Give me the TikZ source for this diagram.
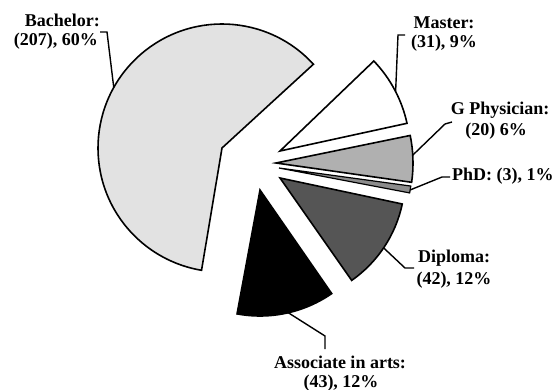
\documentclass[tikz,border=0pt]{standalone}
\usepackage{fontspec}
\setmainfont{Liberation Serif}
\usetikzlibrary{calc}
\definecolor{bachc}{HTML}{E2E2E2}
\definecolor{gpc}{HTML}{B0B0B0}
\definecolor{phdc}{HTML}{8C8C8C}
\definecolor{dipc}{HTML}{555555}
\begin{document}
\begin{tikzpicture}[x=1pt,y=-1pt,
  slice/.style={draw=black,line width=1.6pt,line join=miter},
  leader/.style={draw=black,line width=1.4pt},
  lbl/.style={inner sep=0pt,font=\bfseries\fontsize{18}{20}\selectfont}]
\useasboundingbox (0,0) rectangle (554,390);
% vertices
\coordinate (vB) at (222,148);
\coordinate (vM) at (280,151);
\coordinate (vG) at (276,163);
\coordinate (vP) at (279,168);
\coordinate (vD) at (280,178);
\coordinate (vA) at (260,190);
% slices
\filldraw[slice,fill=bachc] (vB) -- ++(-42.5:124) arc[start angle=-42.5,end angle=-260.5,radius=124] -- cycle;
\filldraw[slice,fill=white] (vM) -- ++(-43.8:130) arc[start angle=-43.8,end angle=-12.3,radius=130] -- cycle;
\filldraw[slice,fill=gpc] (vG) -- ++(-11.6:137) arc[start angle=-11.6,end angle=8.1,radius=137] -- cycle;
\filldraw[slice,fill=phdc,line width=1.2pt] (vP) -- ++(7.8:133) arc[start angle=7.8,end angle=10.8,radius=133] -- cycle;
\filldraw[slice,fill=dipc] (vD) -- ++(12:125) arc[start angle=12,end angle=55,radius=125] -- cycle;
\filldraw[slice,fill=black] (vA) -- ++(55.3:126) arc[start angle=55.3,end angle=100.5,radius=126] -- cycle;
% leader anchor points
\coordinate (bA) at ($(vB)+(-150.8:124)$);
\coordinate (mA) at ($(vM)+(-27.2:130)$);
\coordinate (gA) at ($(vG)+(-3.3:137)$);
\coordinate (pA) at ($(vP)+(9.5:133)$);
\coordinate (dA) at ($(vD)+(34:125)$);
\coordinate (aA) at ($(vA)+(77:126)$);
% labels
\node[lbl,anchor=base east] (bach1) at (100,27) {Bachelor:};
\node[lbl,anchor=base east] (bach2) at (98,46) {(207), 60\%};
\node[lbl,anchor=base] (mas1) at (444,29) {Master:};
\node[lbl,anchor=base] (mas2) at (444,48) {(31), 9\%};
\node[lbl,anchor=base] (gp1) at (500,115) {G Physician:};
\node[lbl,anchor=base] (gp2) at (496,136) {(20) 6\%};
\node[lbl,anchor=base west] (phd) at (452,181) {PhD: (3), 1\%};
\node[lbl,anchor=base] (dip1) at (454,262) {Diploma:};
\node[lbl,anchor=base] (dip2) at (454,284) {(42), 12\%};
\node[lbl,anchor=base] (as1) at (340,368) {Associate in arts:};
\node[lbl,anchor=base] (as2) at (341,387) {(43), 12\%};
% leaders
\coordinate (bK) at (107,32); \coordinate (bT) at (100,32);
\coordinate (mK) at (398,35); \coordinate (mT) at (405,35);
\coordinate (gK) at (445,124); \coordinate (gT) at (452,122);
\coordinate (pK) at (442,177); \coordinate (pT) at (450,177);
\coordinate (dK) at (405,268); \coordinate (dT) at (414,268);
\coordinate (aK) at (325,336); \coordinate (aT) at (325,349);
\draw[leader] (bA) -- (bK) -- (bT);
\draw[leader] (mA) -- (mK) -- (mT);
\draw[leader] (gA) -- (gK) -- (gT);
\draw[leader] (pA) -- (pK) -- (pT);
\draw[leader] (dA) -- (dK) -- (dT);
\draw[leader] (aA) -- (aK) -- (aT);
\end{tikzpicture}
\end{document}
